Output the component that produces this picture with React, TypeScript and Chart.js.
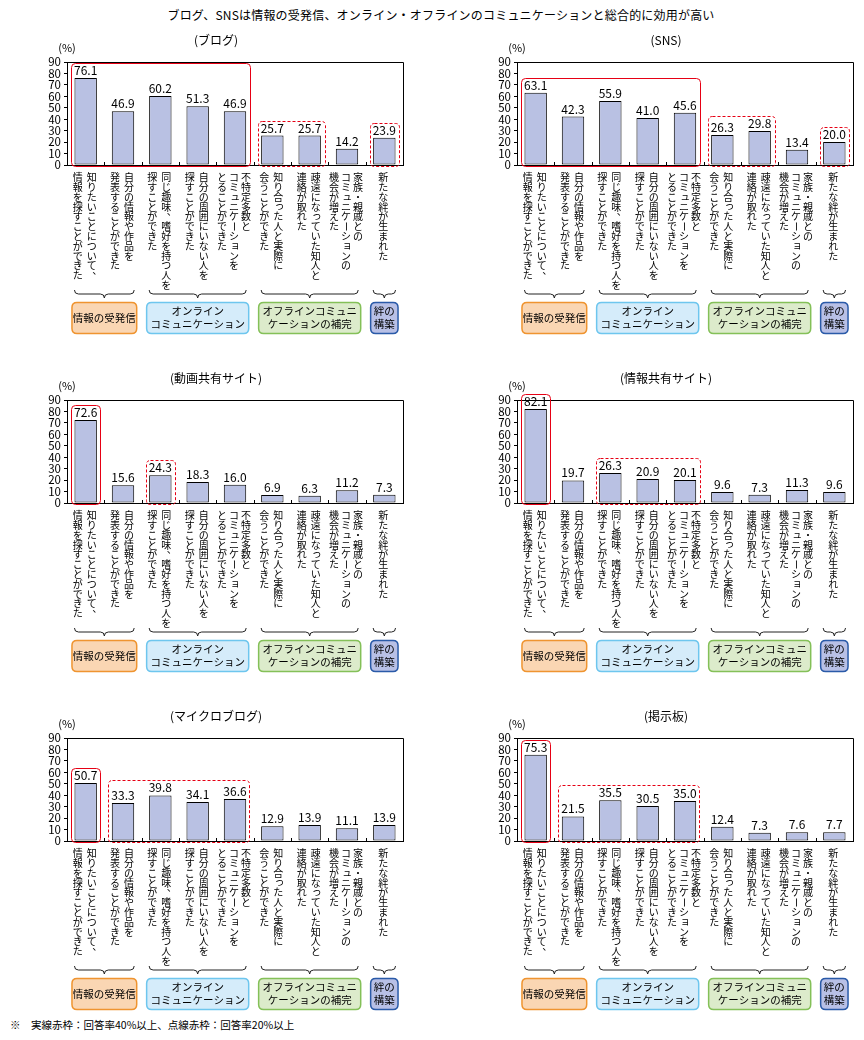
import React, { useEffect, useRef } from "react";
import { Chart, registerables } from "chart.js";
Chart.register(...registerables);

const FONT = '"Noto Sans CJK JP", "Noto Sans", sans-serif';

const mainTitle =
  "ブログ、SNSは情報の受発信、オンライン・オフラインのコミュニケーションと総合的に効用が高い";
const footnote = "※　実線赤枠：回答率40%以上、点線赤枠：回答率20%以上";
const unitLabel = "(%)";

// category labels (each entry: vertical columns, first = rightmost)
const categoryLines = [
  ["知りたいことについて、", "情報を探すことができた"],
  ["自分の情報や作品を", "発表することができた"],
  ["同じ趣味、嗜好を持つ人を", "探すことができた"],
  ["自分の周囲にいない人を", "探すことができた"],
  ["不特定多数と", "コミュニケーションを", "とることができた"],
  ["知り合った人と実際に", "会うことができた"],
  ["疎遠になっていた知人と", "連絡が取れた"],
  ["家族・親戚との", "コミュニケーションの", "機会が増えた"],
  ["新たな絆が生まれた"],
];

const yTickMin = 0;
const yTickMax = 90;
const yTickStep = 10;

const panelTitles = ["(ブログ)", "(SNS)", "(動画共有サイト)", "(情報共有サイト)", "(マイクロブログ)", "(掲示板)"];

const blogValues = [76.1, 46.9, 60.2, 51.3, 46.9, 25.7, 25.7, 14.2, 23.9];
const snsValues = [63.1, 42.3, 55.9, 41.0, 45.6, 26.3, 29.8, 13.4, 20.0];
const videoValues = [72.6, 15.6, 24.3, 18.3, 16.0, 6.9, 6.3, 11.2, 7.3];
const infoShareValues = [82.1, 19.7, 26.3, 20.9, 20.1, 9.6, 7.3, 11.3, 9.6];
const microblogValues = [50.7, 33.3, 39.8, 34.1, 36.6, 12.9, 13.9, 11.1, 13.9];
const bbsValues = [75.3, 21.5, 35.5, 30.5, 35.0, 12.4, 7.3, 7.6, 7.7];

// highlighted ranges: [first category, last category, solid(>=40%) or dashed(>=20%)]
const blogFrames = [[0, 4, true], [5, 6, false], [8, 8, false]];
const snsFrames = [[0, 4, true], [5, 6, false], [8, 8, false]];
const videoFrames = [[0, 0, true], [2, 2, false]];
const infoShareFrames = [[0, 0, true], [2, 4, false]];
const microblogFrames = [[0, 0, true], [1, 4, false]];
const bbsFrames = [[0, 0, true], [1, 4, false]];

const groupNames = [["情報の受発信"], ["オンライン", "コミュニケーション"], ["オフラインコミュニ", "ケーションの補完"], ["絆の", "構築"]];
const groupRanges = [[0, 1], [2, 4], [5, 7], [8, 8]];
const groupFills = ["#fad6b3", "#d5ecfa", "#dcebcb", "#b8c0e6"];
const groupBorders = ["#ef9430", "#6ec6ee", "#84c058", "#2a5aa8"];

const BAR_FILL = "#b9c1e3";
const RED = "#e60014";

const SMALL_KANA = "っゃゅょッャュョァィゥェォぁぃぅぇぉ";

function drawVertical(ctx: any, text: string, x: number, y0: number, size: number, pitch: number) {
  const chars = Array.from(text);
  chars.forEach((ch, i) => {
    const cy = y0 + i * pitch + pitch / 2;
    if (ch === "ー") {
      ctx.save();
      ctx.translate(x, cy);
      ctx.rotate(Math.PI / 2);
      ctx.fillText(ch, 0, 0);
      ctx.restore();
    } else if (ch === "、" || ch === "。") {
      ctx.fillText(ch, x + size * 0.55, cy - size * 0.5);
    } else if (SMALL_KANA.includes(ch)) {
      ctx.fillText(ch, x + size * 0.12, cy - size * 0.12);
    } else {
      ctx.fillText(ch, x, cy);
    }
  });
}

function roundRect(ctx: any, x: number, y: number, w: number, h: number, r: number) {
  ctx.beginPath();
  ctx.moveTo(x + r, y);
  ctx.lineTo(x + w - r, y);
  ctx.quadraticCurveTo(x + w, y, x + w, y + r);
  ctx.lineTo(x + w, y + h - r);
  ctx.quadraticCurveTo(x + w, y + h, x + w - r, y + h);
  ctx.lineTo(x + r, y + h);
  ctx.quadraticCurveTo(x, y + h, x, y + h - r);
  ctx.lineTo(x, y + r);
  ctx.quadraticCurveTo(x, y, x + r, y);
  ctx.closePath();
}

function makePlugin(title: string, values: number[], frames: any[]) {
  return {
    id: "panelDecor",
    afterDraw(chart: any) {
      const ctx = chart.ctx;
      const area = chart.chartArea;
      const yScale = chart.scales.y;
      const meta = chart.getDatasetMeta(0);
      const bars = meta.data;
      const base = yScale.getPixelForValue(0);
      ctx.save();
      ctx.fillStyle = "#000";
      ctx.textAlign = "center";
      ctx.textBaseline = "middle";

      // title
      ctx.font = `12px ${FONT}`;
      ctx.fillText(title, area.left + 149, 40);
      // unit
      ctx.font = `11px ${FONT}`;
      ctx.fillText(unitLabel, area.left, 48);

      // plot border (top & right)
      ctx.strokeStyle = "#000";
      ctx.lineWidth = 1;
      ctx.beginPath();
      ctx.moveTo(Math.round(area.left) + 0.5, Math.round(area.top) + 0.5);
      ctx.lineTo(Math.round(area.right) + 0.5, Math.round(area.top) + 0.5);
      ctx.lineTo(Math.round(area.right) + 0.5, Math.round(area.bottom) + 0.5);
      ctx.stroke();

      // category boundary ticks (inside)
      const n = values.length;
      const catW = (area.right - area.left) / n;
      ctx.beginPath();
      for (let k = 1; k < n; k++) {
        const bx = Math.round(area.left + k * catW) + 0.5;
        ctx.moveTo(bx, base);
        ctx.lineTo(bx, base - 3);
      }
      ctx.stroke();

      // value labels
      ctx.font = `12px ${FONT}`;
      ctx.textBaseline = "alphabetic";
      bars.forEach((b: any, i: number) => {
        ctx.fillText(values[i].toFixed(1), b.x, b.y - 3);
      });

      // red frames
      ctx.strokeStyle = RED;
      ctx.lineWidth = 1;
      frames.forEach((f: any) => {
        const [s, e, solid] = f;
        const x1 = bars[s].x - bars[s].width / 2 - 3.5;
        const x2 = bars[e].x + bars[e].width / 2 + 3.5;
        let maxV = 0;
        for (let i = s; i <= e; i++) maxV = Math.max(maxV, values[i]);
        const top = yScale.getPixelForValue(maxV) - 15;
        const bottom = base + 1;
        ctx.setLineDash(solid ? [] : [3, 2]);
        roundRect(ctx, Math.round(x1) + 0.5, Math.round(top) + 0.5, Math.round(x2 - x1), Math.round(bottom - top), 4);
        ctx.stroke();
      });
      ctx.setLineDash([]);

      // vertical category labels
      ctx.fillStyle = "#000";
      ctx.textAlign = "center";
      ctx.textBaseline = "middle";
      const vSize = 10;
      ctx.font = `${vSize}px ${FONT}`;
      categoryLines.forEach((cols, i) => {
        const cx = bars[i].x - 1;
        const spacing = cols.length > 2 ? 12 : 14;
        cols.forEach((line, j) => {
          const colX = cx + ((cols.length - 1) / 2) * spacing - j * spacing;
          drawVertical(ctx, line, colX, base + 7.5, vSize, 9.8);
        });
      });

      // braces and group boxes
      groupRanges.forEach((g, gi) => {
        const [s, e] = g;
        const x1 = bars[s].x - bars[s].width / 2;
        const x2 = bars[e].x + bars[e].width / 2;
        const mid = (x1 + x2) / 2;
        const yT = 290;
        const r = 4;
        ctx.strokeStyle = "#222";
        ctx.lineWidth = 1;
        ctx.beginPath();
        ctx.moveTo(x1, yT);
        ctx.quadraticCurveTo(x1, yT + r, x1 + r, yT + r);
        ctx.lineTo(mid - r, yT + r);
        ctx.quadraticCurveTo(mid, yT + r, mid, yT + 8);
        ctx.quadraticCurveTo(mid, yT + r, mid + r, yT + r);
        ctx.lineTo(x2 - r, yT + r);
        ctx.quadraticCurveTo(x2, yT + r, x2, yT);
        ctx.stroke();

        const bx1 = x1 - 2.5;
        const bx2 = x2 + 2.5;
        const by1 = 302.5;
        const by2 = 333.5;
        roundRect(ctx, bx1, by1, bx2 - bx1, by2 - by1, 5);
        ctx.fillStyle = groupFills[gi];
        ctx.fill();
        ctx.strokeStyle = groupBorders[gi];
        ctx.lineWidth = 1.5;
        ctx.stroke();

        ctx.fillStyle = "#000";
        ctx.font = `10.5px ${FONT}`;
        const lines = groupNames[gi];
        const cy = (by1 + by2) / 2;
        const lh = 13;
        lines.forEach((ln, li) => {
          const ly = cy + (li - (lines.length - 1) / 2) * lh;
          ctx.fillText(ln, mid, ly);
        });
      });

      ctx.restore();
    },
  };
}

function Panel(props: { title: string; values: number[]; frames: any[]; left: number; top: number }) {
  const ref = useRef<HTMLCanvasElement | null>(null);
  useEffect(() => {
    const canvas = ref.current;
    if (!canvas) return;
    const chart = new Chart(canvas, {
      type: "bar",
      data: {
        labels: categoryLines.map((c) => c.join("")),
        datasets: [
          {
            data: props.values,
            backgroundColor: BAR_FILL,
            borderColor: "#000",
            borderWidth: 1,
            borderSkipped: false,
            barPercentage: 0.6,
            categoryPercentage: 1,
          },
        ],
      },
      options: {
        responsive: false,
        maintainAspectRatio: false,
        animation: false,
        devicePixelRatio: 1,
        layout: { padding: { top: 62, right: 9, left: 0, bottom: 0 } },
        plugins: { legend: { display: false }, tooltip: { enabled: false }, title: { display: false } },
        scales: {
          x: {
            grid: { display: false, drawTicks: false },
            border: { display: true, color: "#000", width: 1 },
            ticks: { display: false },
            afterFit: (s: any) => {
              s.height = 173;
            },
          },
          y: {
            min: yTickMin,
            max: yTickMax,
            ticks: {
              stepSize: yTickStep,
              autoSkip: false,
              font: { family: FONT, size: 11.5 },
              color: "#000",
              padding: 3,
            },
            grid: { drawOnChartArea: false, tickLength: 3, color: "#000", tickColor: "#000" },
            border: { display: true, color: "#000", width: 1 },
            afterFit: (s: any) => {
              s.width = 67;
            },
          },
        },
      } as any,
      plugins: [makePlugin(props.title, props.values, props.frames)],
    });
    return () => chart.destroy();
  }, []);
  return (
    <canvas
      ref={ref}
      width={412}
      height={338}
      style={{ position: "absolute", left: props.left, top: props.top, width: 412, height: 338 }}
    />
  );
}

export default function App() {
  useEffect(() => {
    document.body.style.margin = "0";
  }, []);
  const panels = [
    { values: blogValues, frames: blogFrames },
    { values: snsValues, frames: snsFrames },
    { values: videoValues, frames: videoFrames },
    { values: infoShareValues, frames: infoShareFrames },
    { values: microblogValues, frames: microblogFrames },
    { values: bbsValues, frames: bbsFrames },
  ];
  return (
    <div style={{ position: "relative", width: 864, height: 1040, background: "#fff", fontFamily: FONT, overflow: "hidden" }}>
      <div
        style={{
          position: "absolute",
          left: 0,
          width: 882,
          top: 6,
          textAlign: "center",
          fontSize: 12,
          lineHeight: "18px",
          color: "#000",
          letterSpacing: 0.2,
        }}
      >
        {mainTitle}
      </div>
      {panels.map((p, i) => (
        <Panel
          key={i}
          title={panelTitles[i]}
          values={p.values}
          frames={p.frames}
          left={i % 2 === 0 ? 0 : 450}
          top={Math.floor(i / 2) * 338}
        />
      ))}
      <div
        style={{
          position: "absolute",
          left: 10,
          top: 1016,
          fontSize: 10.5,
          lineHeight: "18px",
          color: "#000",
          whiteSpace: "pre",
        }}
      >
        {footnote}
      </div>
    </div>
  );
}
